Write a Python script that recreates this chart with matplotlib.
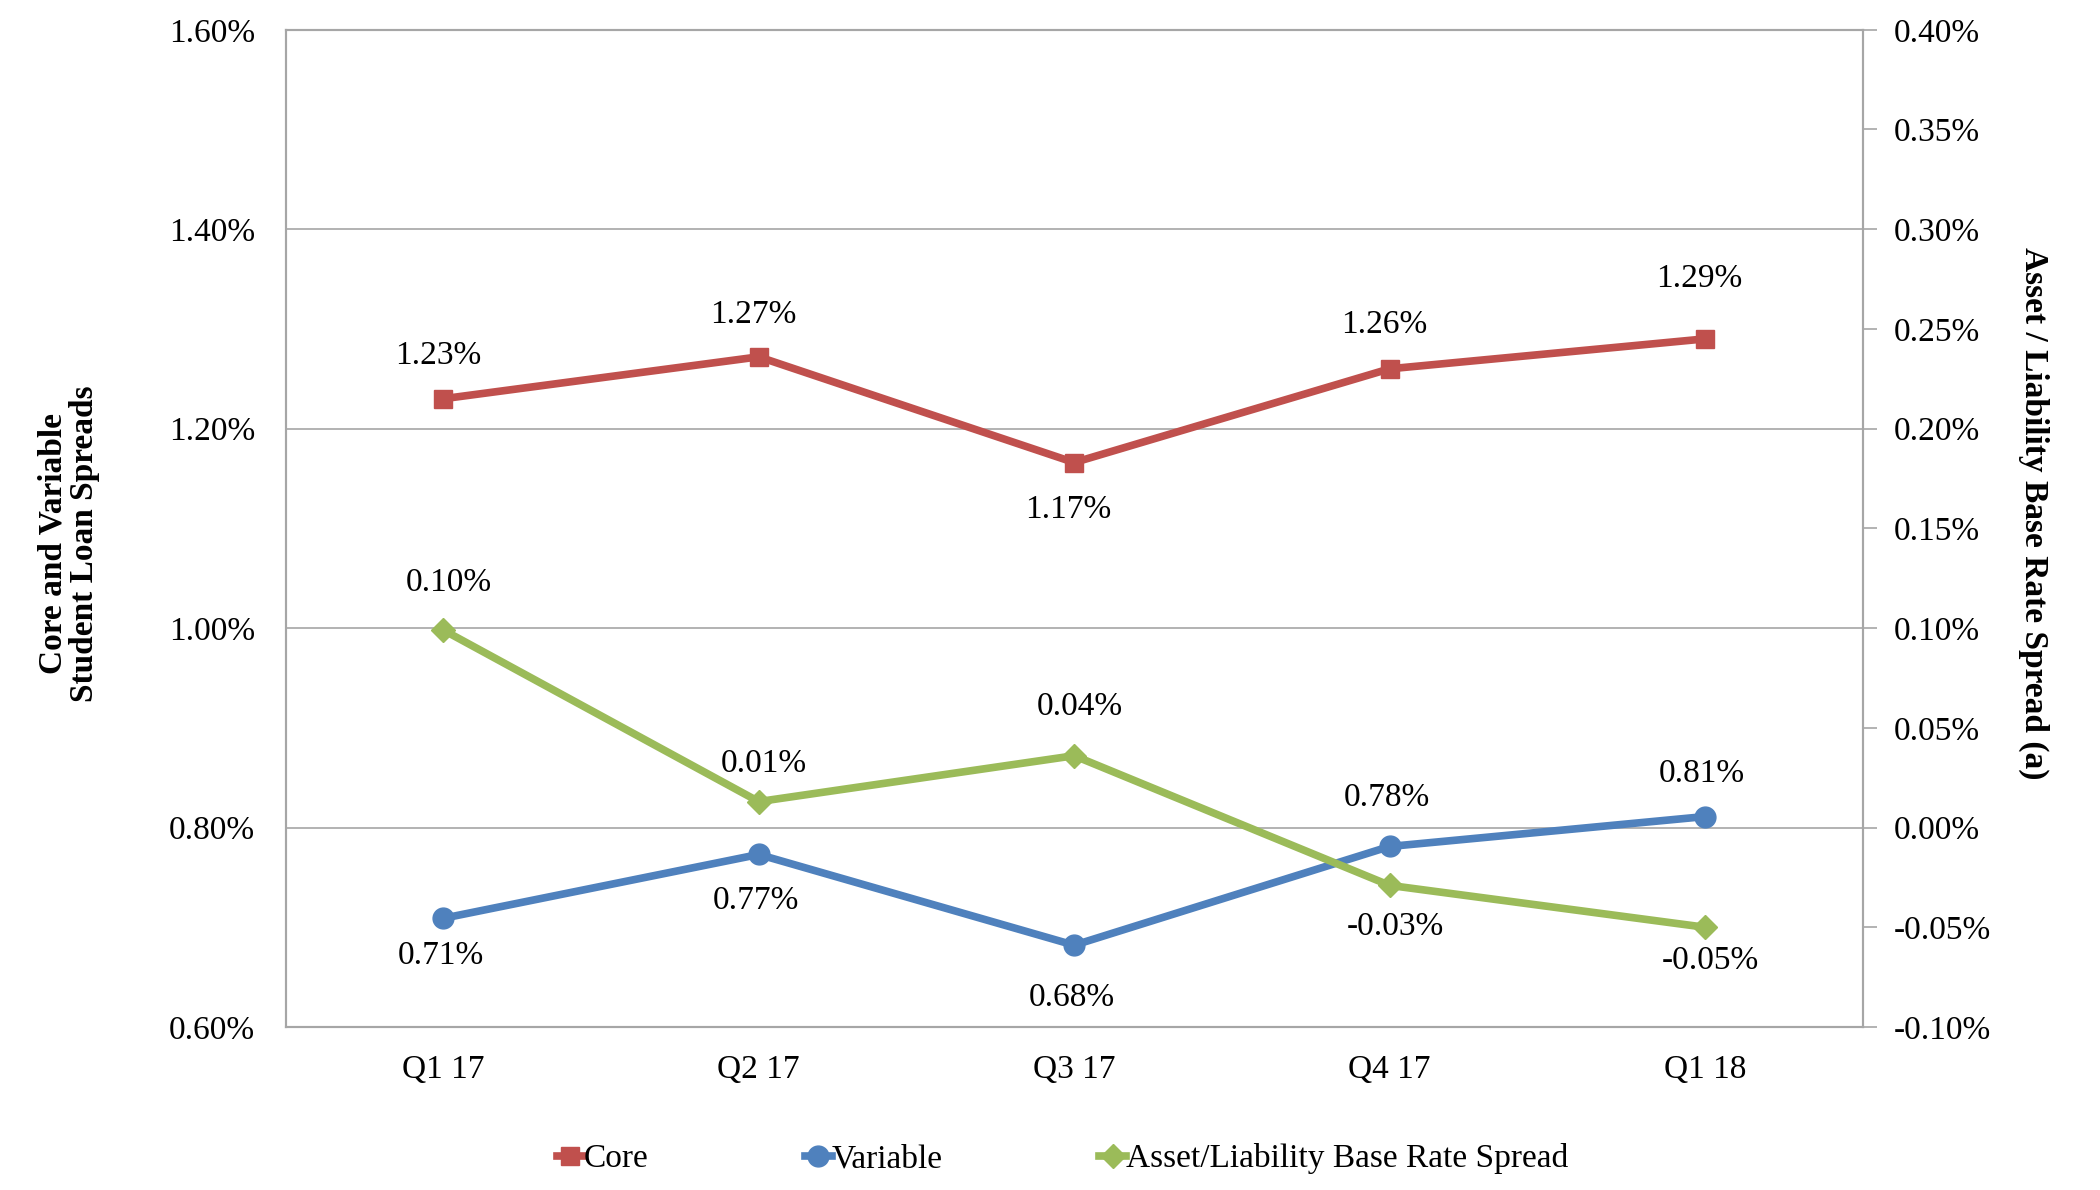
import numpy as np
import matplotlib.pyplot as plt
from matplotlib.ticker import FuncFormatter

plt.rcParams['font.family'] = ['Liberation Serif', 'DejaVu Serif']

quarters = ['Q1 17', 'Q2 17', 'Q3 17', 'Q4 17', 'Q1 18']
core = [1.23, 1.272, 1.166, 1.26, 1.29]
variable = [0.709, 0.773, 0.682, 0.781, 0.811]
base_rate = [0.099, 0.013, 0.036, -0.029, -0.05]

# label placement (points): +above / -below
core_off = [31, 30, -34, 32, 43]
var_off = [-27, -33, -38, 35, 31]
base_off = [34, 27, 35, -30, -24]

red = '#C0504D'
blue = '#4F81BD'
green = '#9BBB59'
grid_c = '#A6A6A6'

fig = plt.figure(figsize=(21, 11.9), dpi=100)
ax = fig.add_axes([0.136, 0.137, 0.751, 0.838])
ax2 = ax.twinx()

x = np.arange(len(quarters))

ax.plot(x, core, color=red, lw=5.5, marker='s', ms=13, label='Core', zorder=3)
ax.plot(x, variable, color=blue, lw=5.5, marker='o', ms=15, label='Variable', zorder=3)
ax2.plot(x, base_rate, color=green, lw=5.5, marker='D', ms=12,
         label='Asset/Liability Base Rate Spread', zorder=3)

fs = 24
for i in range(len(x)):
    ax.annotate(f'{core[i]:.2f}%', (x[i], core[i]), xytext=(-4, core_off[i]),
                textcoords='offset points', ha='center', va='center', fontsize=fs)
    ax.annotate(f'{variable[i]:.2f}%', (x[i], variable[i]), xytext=(-2, var_off[i]),
                textcoords='offset points', ha='center', va='center', fontsize=fs)
    ax2.annotate(f'{base_rate[i]:.2f}%', (x[i], base_rate[i]), xytext=(4, base_off[i]),
                 textcoords='offset points', ha='center', va='center', fontsize=fs)

ax.set_xlim(-0.5, 4.5)
ax.set_ylim(0.6, 1.6)
ax.set_yticks(np.arange(0.6, 1.61, 0.2))
ax.yaxis.set_major_formatter(FuncFormatter(lambda v, p: f'{v:.2f}%'))
ax2.set_ylim(-0.10, 0.40)
ax2.set_yticks(np.arange(-0.10, 0.401, 0.05))
ax2.yaxis.set_major_formatter(FuncFormatter(lambda v, p: f'{v:.2f}%'))

ax.set_xticks(x)
ax.set_xticklabels(quarters)
ax.grid(axis='y', color=grid_c, lw=1.2)
ax.set_axisbelow(True)

for a in (ax, ax2):
    for s in a.spines.values():
        s.set_color(grid_c)
        s.set_linewidth(1.5)

ax.tick_params(axis='y', length=0, labelsize=fs, pad=22)
ax.tick_params(axis='x', length=0, labelsize=fs, pad=20)
ax2.tick_params(axis='y', length=10, width=1.2, color=grid_c, labelsize=fs, pad=12)

ax.set_ylabel('Core and Variable\nStudent Loan Spreads', fontsize=24,
              fontweight='bold', linespacing=1.0)
ax2.set_ylabel('Asset / Liability Base Rate Spread (a)', fontsize=24,
               fontweight='bold', rotation=270)
ax.yaxis.set_label_coords(-0.118, 0.485)
ax2.yaxis.set_label_coords(1.118, 0.515)

h1, l1 = ax.get_legend_handles_labels()
h2, l2 = ax2.get_legend_handles_labels()
fig.legend(h1 + h2, l1 + l2, loc='lower center', bbox_to_anchor=(0.506, -0.012),
           ncol=3, frameon=False, fontsize=fs, handlelength=0.8,
           handletextpad=0.0, columnspacing=4.7, markerscale=1.0)

fig.savefig('out.png', dpi=100)
